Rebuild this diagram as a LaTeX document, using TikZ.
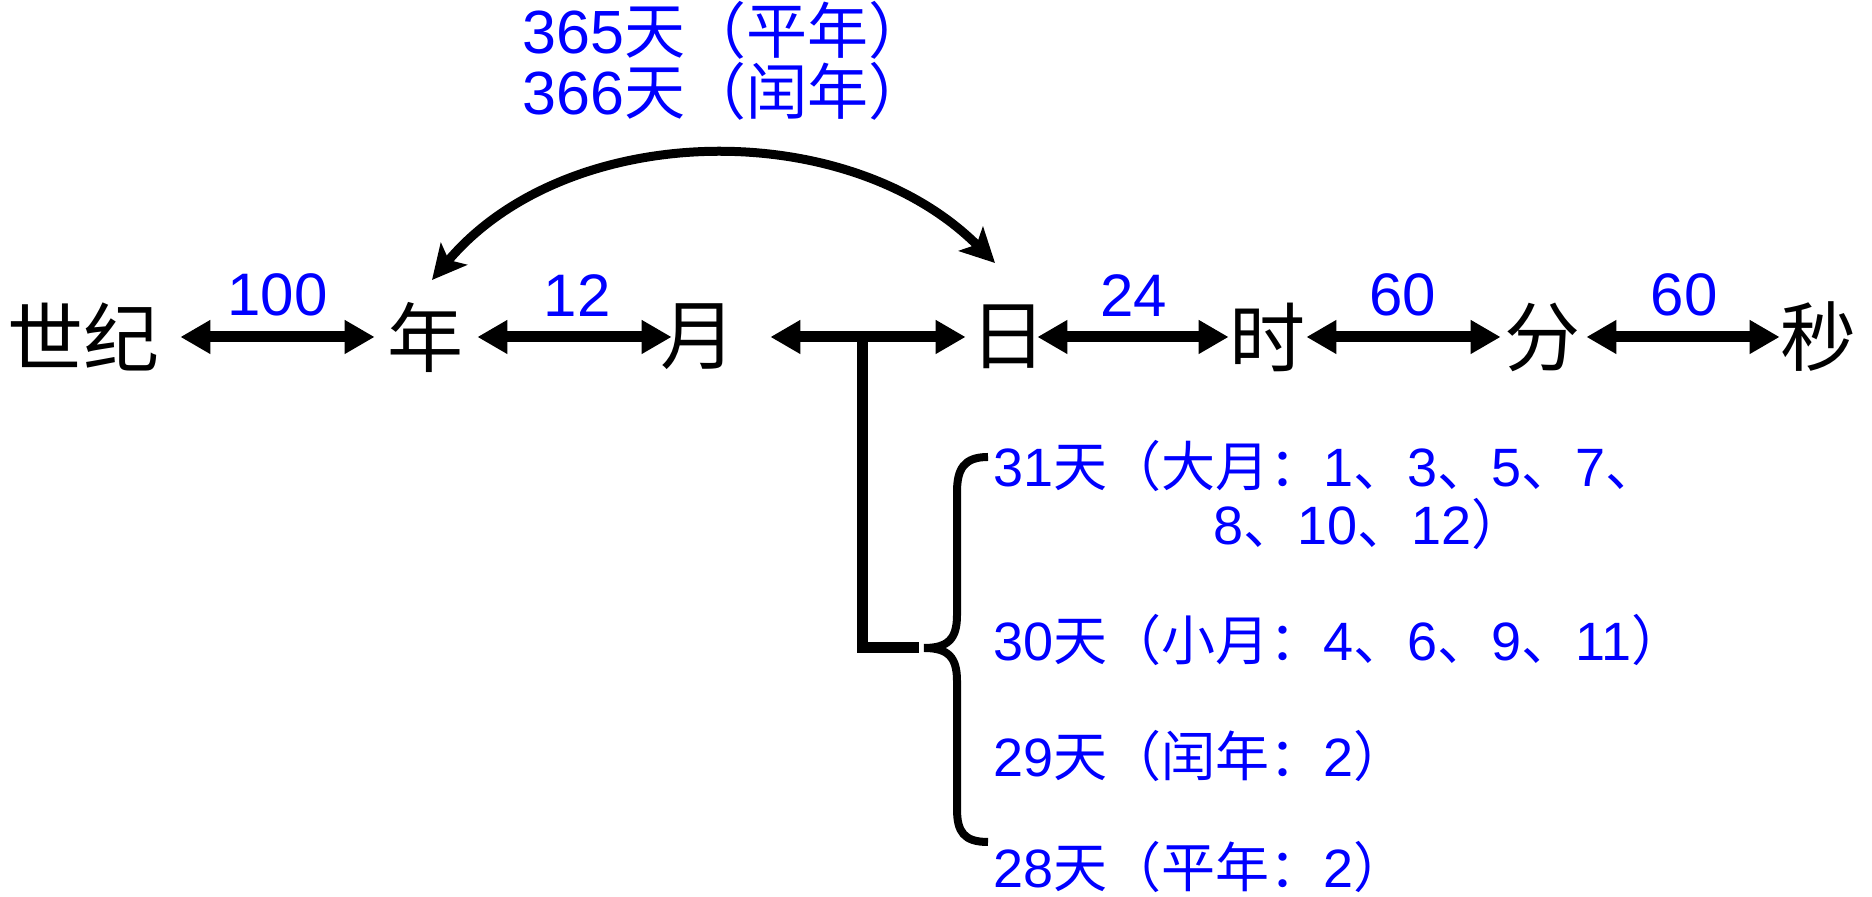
\documentclass[tikz,border=0pt]{standalone}
\usepackage{fontspec}
\setmainfont{Liberation Sans}
\newfontfamily\cjk{Noto Sans CJK SC}
\usetikzlibrary{arrows.meta}

% Chinese pieces inside the blue labels
\newcommand{\zhtext}[1]{{\cjk #1}}
\newcommand{\dun}{{\cjk 、}}

\begin{document}
\begin{tikzpicture}[x=0.5pt, y=0.5pt,
    unitbox/.style={inner sep=0pt, font=\cjk\fontsize{38}{40}\selectfont},
    dblarrow/.style={line width=5.5pt, {Triangle[length=15pt,width=16pt]}-{Triangle[length=15pt,width=16pt]}},
    numlabel/.style={above=7.5pt, inner sep=0pt, text=blue, font=\fontsize{30}{30}\selectfont},
    yearlabel/.style={anchor=base west, inner sep=0pt, text=blue, font=\fontsize{30.5}{30.5}\selectfont},
    daylist/.style={anchor=base west, inner sep=0pt, text=blue, font=\fontsize{27}{27}\selectfont}]

    % fix the page to the size of the reference
    \useasboundingbox (0,0) rectangle (1872,897);

    % the row of time units
    \foreach \name/\x/\txt in {century/83/世纪, year/425/年, month/698/月, day/1008/日, hour/1267/时, minute/1542/分, second/1818/秒}
        \node[unitbox] (\name) at (\x,560) {\txt};

    % double arrows with the conversion numbers
    \foreach \a/\b/\s/\t/\p/\num in {century/year/10.5pt/6pt/0.52/100, year/month/7pt/-6pt/0.58/12, day/hour/-4.5pt/0pt/0.48/24, hour/minute/0.5pt/1.5pt/0.49/60, minute/second/3pt/0pt/0.52/60}
        \draw[dblarrow, shorten <=\s, shorten >=\t] (\a) -- (\b) node[numlabel, pos=\p] {\num};
    \draw[dblarrow, shorten <=17pt, shorten >=2pt] (month) -- (day);

    % days in a year
    \draw[line width=4.5pt, {Stealth[length=17pt,width=17pt,inset=4pt]}-{Stealth[length=17pt,width=17pt,inset=4pt]}]
        ([shift={(7,57)}]year.center) to[out=50, in=135, looseness=0.95] ([shift={(-13,74)}]day.center);
    \node[yearlabel] (common) at (522,843) {365\zhtext{天（平年）}};
    \node[yearlabel] (leap) at (522,782) {366\zhtext{天（闰年）}};

    % days in a month
    \coordinate (tee) at (862,560);
    \coordinate (fork) at (862,249);
    \coordinate (bracetip) at (924,249);
    \draw[line width=5.5pt] (tee) -- (fork) -- (919,249);
    \draw[line width=4pt] (988,440) .. controls (964,440) and (957,428) .. (957,405) -- (957,282)
        .. controls (957,258) and (948,249) .. (bracetip)
        .. controls (948,249) and (957,240) .. (957,216) -- (957,88)
        .. controls (957,65) and (964,55) .. (988,55);

    \node[daylist] (long) at (993,410) {31\zhtext{天（大月：}1\dun 3\dun 5\dun 7\dun};
    \node[daylist] (longmore) at (1213,352) {8\dun 10\dun 12\zhtext{）}};
    \node[daylist] (short) at (993,236) {30\zhtext{天（小月：}4\dun 6\dun 9\dun 11\zhtext{）}};
    \node[daylist] (leapfeb) at (993,120) {29\zhtext{天（闰年：}2\zhtext{）}};
    \node[daylist] (commonfeb) at (993,9) {28\zhtext{天（平年：}2\zhtext{）}};

\end{tikzpicture}
\end{document}
